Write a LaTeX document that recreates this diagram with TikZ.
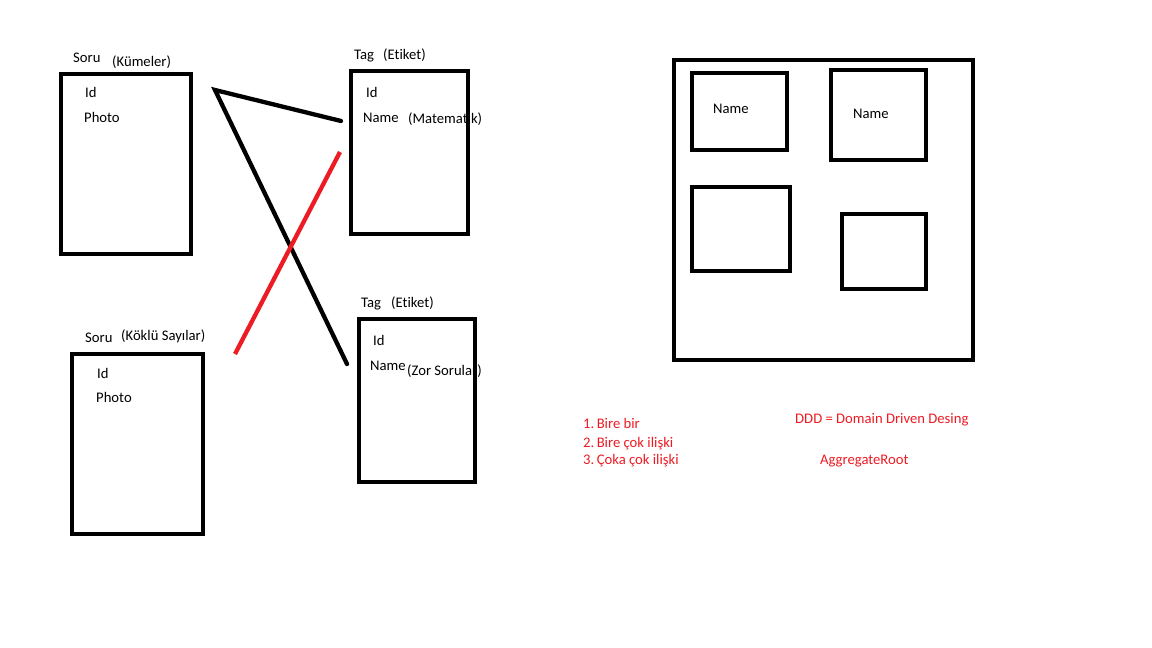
\documentclass[tikz,border=0pt]{standalone}
\usepackage{fontspec}
\setmainfont{Carlito}[Ligatures={NoCommon}]
\definecolor{mspred}{HTML}{ED1C24}
\tikzset{
  box/.style={draw=black, line width=4.3pt, inner sep=0pt, minimum width=#1},
  lbl/.style={anchor=base west, inner sep=0pt, font=\fontsize{14.67}{17}\selectfont, text=black},
  rlbl/.style={lbl, text=mspred},
  conn/.style={line width=4.3pt, line cap=round},
}
\begin{document}
\begin{tikzpicture}[x=1pt,y=-1pt]
\useasboundingbox[fill=white] (0,0) rectangle (1152,648);
% boxes
\node[box=130pt, minimum height=180pt] (soru1) at (126,164) {};
\node[box=117pt, minimum height=163pt] (tag1) at (409.5,152.5) {};
\node[box=131pt, minimum height=180pt] (soru2) at (137.5,444) {};
\node[box=116pt, minimum height=163pt] (tag2) at (417,400.5) {};
\node[box=299pt, minimum height=300pt] (agg) at (823.5,210) {};
\node[box=95pt, minimum height=77pt] (in1) at (739.5,111.5) {};
\node[box=95pt, minimum height=90pt] (in2) at (878.5,115) {};
\node[box=98pt, minimum height=84pt] (in3) at (741,229) {};
\node[box=84pt, minimum height=75pt] (in4) at (884,251.5) {};
% labels
\node[lbl] (s1t) at (73,62) {Soru};
\node[lbl] (s1k) at (112,66) {(Kümeler)};
\node[lbl] (s1id) at (85,97) {Id};
\node[lbl] (s1ph) at (84,122) {Photo};
\node[lbl] (t1t) at (354,59) {Tag};
\node[lbl] (t1e) at (383,59) {(Etiket)};
\node[lbl] (t1id) at (366,97) {Id};
\node[lbl] (t1nm) at (363,122) {Name};
\node[lbl] (t1m) at (408,123) {(Matematik)};
\node[lbl] (s2t) at (85,342) {Soru};
\node[lbl] (s2k) at (121,340) {(Köklü Sayılar)};
\node[lbl] (s2id) at (97,378) {Id};
\node[lbl] (s2ph) at (96,402) {Photo};
\node[lbl] (t2t) at (361,307) {Tag};
\node[lbl] (t2e) at (391,307) {(Etiket)};
\node[lbl] (t2id) at (373,345) {Id};
\node[lbl] (t2nm) at (370,370) {Name};
\node[lbl] (t2z) at (407,375) {(Zor Sorular)};
\node[lbl] (n1) at (713,113) {Name};
\node[lbl] (n2) at (853,118) {Name};
\node[rlbl] (r1) at (583,428) {1.\kern-2pt{} Bire bir};
\node[rlbl] (r2) at (583,447) {2.\kern-2pt{} Bire çok ilişki};
\node[rlbl] (r3) at (583,464) {3.\kern-2pt{} Çoka çok ilişki};
\node[rlbl] (ddd) at (795,423) {DDD = Domain Driven Desing};
\node[rlbl] (ar) at (820,464) {AggregateRoot};
% connectors
\coordinate (p0) at (215,90);
\coordinate (p1) at (341,121);
\coordinate (p2) at (347,364);
\coordinate (q1) at (340,152);
\coordinate (q2) at (235,354);
\draw[conn] (p1) -- (p0) -- (p2);
\draw[conn, draw=mspred, line cap=butt] (q1) -- (q2);
\end{tikzpicture}
\end{document}
